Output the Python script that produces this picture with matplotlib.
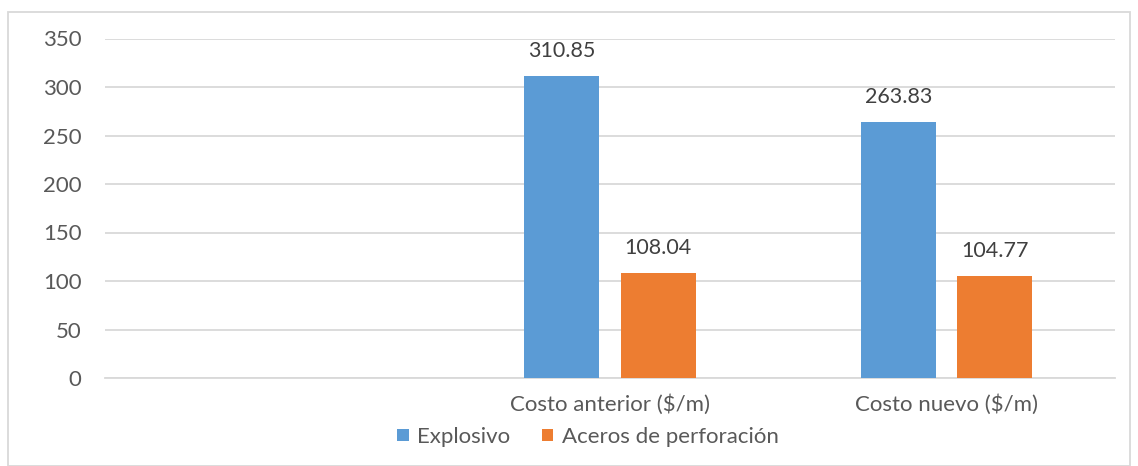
import numpy as np
import matplotlib.pyplot as plt
from matplotlib.patches import Rectangle

categories = ["", "Costo anterior ($/m)", "Costo nuevo ($/m)"]
explosivo = [np.nan, 310.85, 263.83]
aceros = [np.nan, 108.04, 104.77]
series_names = ["Explosivo", "Aceros de perforación"]
colors = ["#5b9bd5", "#ed7d31"]

plt.rcParams['font.family'] = ['Lato', 'DejaVu Sans']
text_color = "#595959"

fig = plt.figure(figsize=(11.38, 4.66), dpi=100)
ax = fig.add_axes([105 / 1138, 1 - 378 / 466, 1010 / 1138, (378 - 38.5) / 466])

x = np.arange(len(categories))
width = 0.223
offset = 0.143
for vals, off, c, name in zip([explosivo, aceros], [-offset, offset], colors, series_names):
    ax.bar(x + off, vals, width, color=c, label=name, zorder=3)
    for xi, v in zip(x, vals):
        if not np.isnan(v):
            ax.annotate(f"{v:.2f}", (xi + off, v), xytext=(0, 11), textcoords="offset points",
                        ha="center", va="bottom", fontsize=15.5, color="#404040")

ax.set_xlim(-0.5, 2.5)
ax.set_ylim(0, 350)
ax.set_yticks(np.arange(0, 351, 50))
ax.set_xticks(x)
ax.set_xticklabels(categories)
ax.tick_params(axis='both', length=0, labelsize=16, colors=text_color)
ax.tick_params(axis='x', pad=12)
ax.tick_params(axis='y', pad=17)
ax.grid(axis='y', color="#d9d9d9", linewidth=1.3, zorder=0)
for s in ["top", "right", "left"]:
    ax.spines[s].set_visible(False)
ax.spines["bottom"].set_color("#d9d9d9")
ax.spines["bottom"].set_linewidth(1.3)

leg = fig.legend(loc="center", bbox_to_anchor=(588 / 1138, 1 - 437 / 466), ncol=2,
                 frameon=False, fontsize=16, handlelength=0.5, handleheight=0.5,
                 handletextpad=0.4, columnspacing=1.4)
for t in leg.get_texts():
    t.set_color(text_color)

fig.patches.append(Rectangle((8 / 1138, 0), 1122 / 1138, 1 - 12 / 466, transform=fig.transFigure,
                             fill=False, edgecolor="#d9d9d9", linewidth=1.3))

fig.savefig("out.png", dpi=100)
